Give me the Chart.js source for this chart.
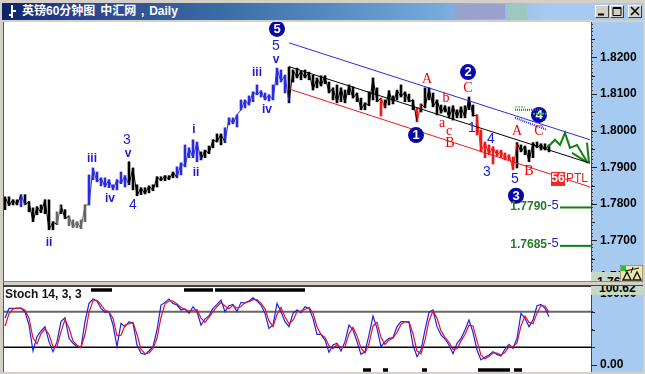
<!DOCTYPE html>
<html>
<head>
<meta charset="utf-8">
<title>英镑60分钟图</title>
<script src="https://cdn.jsdelivr.net/npm/chart.js@4/dist/chart.umd.min.js"></script>
<style>
html, body { margin: 0; padding: 0; background: #d4d0c8; overflow: hidden; }
body { position: relative; width: 645px; height: 374px; font-family: "Liberation Sans", "Noto Sans CJK SC", sans-serif; }
div, canvas, svg { position: absolute; }
#titlebar { left: 2px; top: 3px; width: 641px; height: 17px; background: linear-gradient(to right, #0a246a 0%, #2a3f8c 10%, #3a6ea5 35%, #6ea4d8 65%, #a6caf0 85%, #a6caf0 100%); }
#titletext { left: 20px; top: 0; color: #fff; font-weight: bold; font-size: 12px; line-height: 17px; white-space: nowrap; word-spacing: 1.5px; }
.patch { top: 1px; height: 15px; }
.btn { top: 5px; width: 14px; height: 13px; background: #d4d0c8; border: 1px solid; border-color: #fff #404040 #404040 #fff; box-sizing: border-box; }
#plot1 { left: 4px; top: 22px; width: 587px; height: 259px; background: #fff; }
#plot2 { left: 4px; top: 287px; width: 587px; height: 85px; background: #fff; }
#axis1 { left: 591px; top: 22px; width: 52px; height: 259px; background: #a6caf0; }
#axis2 { left: 591px; top: 287px; width: 52px; height: 85px; background: #a6caf0; }
#edge { left: 3px; top: 22px; width: 1px; height: 350px; background: #555; }
#split { left: 3px; top: 285px; width: 640px; height: 2px; background: #444; }
#split0 { left: 3px; top: 281px; width: 640px; height: 1px; background: #888; }
#chart1 { left: 4px; top: 22px; }
#chart2 { left: 4px; top: 287px; }
.valuebox { left: 591px; background: #c6d8c4; overflow: hidden; font-weight: bold; font-size: 12px; color: #000; white-space: nowrap; }
#box1 { top: 272px; width: 30px; height: 9px; line-height: 20px; padding-left: 6px; box-sizing: border-box; }
#box2 { top: 286px; width: 52px; height: 9px; line-height: 4px; padding-left: 8px; box-sizing: border-box; }
</style>
</head>
<body>
<div id="titlebar">
  <svg style="left:6px;top:2px" width="10" height="14"><path d="M4 0V13M4 6H8M1 10H4" stroke="#fff" stroke-width="2" fill="none"/></svg>
  <div class="patch" style="left:453px;width:50px;background:#98a2cc"></div>
  <div class="patch" style="left:505px;width:20px;background:#9cc8c0"></div>
  <div id="titletext">英镑60分钟图 中汇网 , Daily</div>
</div>
<div class="btn" style="left:595px"><svg width="12" height="11"><path d="M2 8.5H8" stroke="#000" stroke-width="2"/></svg></div>
<div class="btn" style="left:610px"><svg width="12" height="11"><path d="M2 1.5H10V9.5H2Z M2 2.5H10" stroke="#000" fill="none"/></svg></div>
<div class="btn" style="left:628px"><svg width="12" height="11"><path d="M2 1L10 9M10 1L2 9" stroke="#000" stroke-width="1.6"/></svg></div>
<div id="edge"></div>
<div id="plot1"></div>
<div id="axis1"></div>
<div id="split0"></div>
<div id="plot2"></div>
<div id="axis2"></div>
<div id="split"></div>
<canvas id="chart1" width="639" height="259"></canvas>
<canvas id="chart2" width="639" height="85"></canvas>
<div id="box1" class="valuebox">1.7600</div>
<div id="box2" class="valuebox">100.62</div>
<svg style="left:620px;top:265px" width="23" height="17">
  <rect width="23" height="17" fill="#ece6a8" stroke="#555"/>
  <rect x="1" y="1" width="5" height="5" fill="#22c040"/>
  <path d="M3 15L7 7L11 15ZM13 15L17 7L21 15Z" fill="none" stroke="#111" stroke-width="1.4"/>
  <path d="M5 6L19 3M11 8L13 2" stroke="#111" fill="none"/>
</svg>
<script>
const highs = [
  1.7819, 1.7819, 1.7811, 1.7811, 1.7825, 1.7825, 1.7806, 1.7789, 1.7792, 1.7797,
  1.7811, 1.7811, 1.7751, 1.7778, 1.7797, 1.7784, 1.7767, 1.7756, 1.7751, 1.7756,
  1.7797, 1.7879, 1.7898, 1.7887, 1.7871, 1.7871, 1.7866, 1.7852, 1.7866, 1.7887,
  1.7877, 1.7915, 1.7898, 1.7852, 1.7844, 1.7844, 1.7849, 1.7852, 1.7874, 1.7874,
  1.7877, 1.7877, 1.7887, 1.7901, 1.7912, 1.7961, 1.7953, 1.7975, 1.7969, 1.7942,
  1.7947, 1.7958, 1.7975, 1.7991, 1.7991, 1.8008, 1.8035, 1.8035, 1.8043, 1.8084,
  1.8084, 1.8095, 1.8106, 1.8125, 1.8109, 1.8103, 1.8098, 1.8125, 1.8171, 1.8166,
  1.8152, 1.8174, 1.8166, 1.8171, 1.8163, 1.8166, 1.8160, 1.8152, 1.8144, 1.8150,
  1.8150, 1.8133, 1.8117, 1.8125, 1.8117, 1.8111, 1.8125, 1.8120, 1.8103, 1.8089,
  1.8076, 1.8106, 1.8144, 1.8117, 1.8089, 1.8084, 1.8109, 1.8095, 1.8111, 1.8125,
  1.8106, 1.8100, 1.8084, 1.8062, 1.8073, 1.8117, 1.8117, 1.8103, 1.8084, 1.8070,
  1.8068, 1.8065, 1.8068, 1.8057, 1.8065, 1.8068, 1.8092, 1.8070, 1.8043, 1.8002,
  1.7969, 1.7961, 1.7956, 1.7947, 1.7947, 1.7939, 1.7934, 1.7928, 1.7967, 1.7961,
  1.7958, 1.7947, 1.7967, 1.7969, 1.7964, 1.7964, 1.7961
];
const lows = [
  1.7784, 1.7795, 1.7797, 1.7797, 1.7792, 1.7797, 1.7778, 1.7751, 1.7770, 1.7776,
  1.7773, 1.7729, 1.7729, 1.7743, 1.7773, 1.7759, 1.7740, 1.7735, 1.7735, 1.7732,
  1.7751, 1.7797, 1.7866, 1.7860, 1.7849, 1.7846, 1.7844, 1.7838, 1.7838, 1.7855,
  1.7846, 1.7852, 1.7838, 1.7822, 1.7825, 1.7827, 1.7830, 1.7836, 1.7846, 1.7863,
  1.7863, 1.7866, 1.7871, 1.7871, 1.7879, 1.7901, 1.7926, 1.7926, 1.7915, 1.7920,
  1.7926, 1.7937, 1.7953, 1.7969, 1.7961, 1.7967, 1.8016, 1.8019, 1.8010, 1.8057,
  1.8062, 1.8070, 1.8079, 1.8098, 1.8092, 1.8084, 1.8081, 1.8084, 1.8125, 1.8133,
  1.8103, 1.8076, 1.8133, 1.8144, 1.8139, 1.8144, 1.8139, 1.8111, 1.8117, 1.8122,
  1.8128, 1.8103, 1.8084, 1.8076, 1.8079, 1.8076, 1.8098, 1.8089, 1.8079, 1.8057,
  1.8057, 1.8068, 1.8084, 1.8079, 1.8040, 1.8062, 1.8070, 1.8073, 1.8084, 1.8092,
  1.8079, 1.8079, 1.8057, 1.8024, 1.8051, 1.8062, 1.8084, 1.8065, 1.8043, 1.8048,
  1.8051, 1.8035, 1.8029, 1.8035, 1.8035, 1.8035, 1.8057, 1.8040, 1.7988, 1.7942,
  1.7926, 1.7934, 1.7909, 1.7931, 1.7926, 1.7920, 1.7920, 1.7893, 1.7898, 1.7942,
  1.7934, 1.7915, 1.7926, 1.7953, 1.7947, 1.7947, 1.7942
];
const stochK = [
  65.7, 79.7, 79.7, 79.7, 79.7, 75, 56.3, 19.8, 39.9, 47.9,
  54, 32.9, 18.9, 32.9, 61, 66.6, 37.6, 30.6, 25.9, 24.5,
  61, 86.7, 92.8, 90, 79.7, 74.1, 75, 56.3, 25.9, 58.6,
  54, 61, 58.6, 28.2, 16.5, 15.1, 19.8, 25.9, 49.3, 84.4,
  88.1, 92.8, 86.7, 84.4, 77.4, 78.8, 72.7, 82, 75, 56.3,
  64.7, 69.4, 79.7, 85.3, 91.4, 75, 83.4, 85.3, 75, 88.1,
  87.2, 90, 94.7, 90, 84.4, 72.7, 51.6, 56.3, 86.7, 75,
  61, 54, 72.7, 77.4, 73.6, 82, 79.7, 65.7, 43.2, 43.2,
  35.2, 17.9, 28.2, 30.6, 19.8, 32.9, 56.3, 49.3, 32.9, 15.1,
  18.9, 42.3, 68.9, 51.6, 25.9, 32.9, 37.6, 38.5, 54, 61,
  61, 60, 28.2, 11.8, 21.2, 49.3, 74.1, 77.4, 54, 42.3,
  36.6, 28.2, 16, 30.6, 37.6, 49.3, 63.3, 46, 21.2, 7.2,
  10.9, 14.2, 18.9, 15.1, 12.8, 22.6, 29.2, 23.5, 37.6, 72.7,
  65.7, 54, 63.3, 83.4, 85.3, 79.7, 68
];
const stochD = [
  55, 72, 79, 80, 80, 77, 66, 38, 30, 44,
  51, 43, 26, 26, 47, 64, 52, 34, 28, 25,
  43, 74, 90, 91, 85, 77, 75, 66, 41, 42,
  56, 58, 60, 43, 22, 16, 17, 23, 38, 67,
  86, 90, 90, 86, 81, 78, 76, 77, 78, 66,
  60, 67, 75, 82, 88, 83, 79, 84, 80, 82,
  88, 89, 92, 92, 87, 79, 62, 54, 71, 81,
  68, 58, 63, 75, 76, 78, 81, 73, 54, 43,
  39, 27, 23, 29, 25, 26, 44, 53, 41, 24,
  17, 30, 55, 60, 39, 29, 35, 38, 46, 57,
  61, 61, 44, 20, 16, 35, 62, 76, 66, 48,
  39, 32, 22, 23, 34, 43, 56, 55, 34, 14,
  9, 12, 17, 17, 14, 18, 26, 26, 31, 55,
  69, 60, 58, 73, 84, 83, 74
];
const stochLevels = [75, 25];
const stochTopSpans = [[21.5, 26.75], [44.75, 52], [52.5, 75]];
const stochBottomSpans = [[89.5, 91.5], [94.5, 95.75], [104.25, 105.5], [118.25, 126.25], [127.25, 129.25]];

// bar runs that are not black, by bar number
const blueRuns = [[4, 4], [21, 30], [43, 48], [55, 70]];
const grayRuns = [[13, 13], [16, 20]];
const redRuns = [[94, 94], [103, 103], [118, 127]];

const upperChannel = [[71, 1.8240], [146.25, 1.7975]];
const middleChannel = [[71, 1.8175], [146.25, 1.7911]];
const lowerChannel = [[71, 1.8114], [146.25, 1.7846]];
const forecast = [[135.75, 1.7956], [137.5, 1.7975], [138.75, 1.7961], [140, 1.7994], [141.25, 1.7953], [143, 1.7961], [145.5, 1.7915]];
const forecastArrowA = [[145.5, 1.7967], [146, 1.7912]];
const forecastArrowB = [[141.75, 1.7939], [145.75, 1.7912]];
const targetValues = [1.7790, 1.7685];
const targetTexts = ['1.7790', '1.7685'];

const circledBehind = [['4', 133.5, 1.8043]];
const circledLabels = [['5', 68, 1.8278], ['1', 102.75, 1.7988], ['2', 115.75, 1.8160], ['3', 127.75, 1.7822]];
const blueLabels = [
  ['5', 67.75, 1.8231], ['v', 67.75, 1.8193], ['iii', 63, 1.8158], ['iv', 65.5, 1.8057],
  ['i', 47.25, 1.8002], ['ii', 47.75, 1.7885], ['3', 30.5, 1.7975], ['v', 30.75, 1.7937],
  ['iii', 21.75, 1.7923], ['iv', 26.25, 1.7814], ['4', 32, 1.7797], ['ii', 11, 1.7694],
  ['1', 116.75, 1.8008], ['4', 121.5, 1.7978], ['3', 120.5, 1.7887], ['5', 127.5, 1.7868]
];
const redLabels = [
  ['A', 105.5, 1.8139], ['b', 110.25, 1.8089], ['a', 109.25, 1.8021], ['c', 111, 1.7997],
  ['B', 111.25, 1.7964], ['C', 115.75, 1.8117], ['A', 128, 1.7999], ['C', 133.5, 1.7999], ['B', 131, 1.7890]
];

const XMIN = -0.25, XMAX = 146.5;
const AXIS_FONT = { family: '"Liberation Sans"', size: 12, weight: 'bold' };

function inRuns(runs, i) {
  return runs.some(r => i >= r[0] && i <= r[1]);
}

function colorAt(i) {
  if (inRuns(blueRuns, i)) return '#2a2ae0';
  if (inRuns(redRuns, i)) return '#f01818';
  if (inRuns(grayRuns, i)) return '#666666';
  return '#000000';
}

function segment(points, color, width, dash) {
  return {
    type: 'line',
    data: points.map(p => ({ x: p[0], y: p[1] })),
    borderColor: color,
    borderWidth: width,
    borderDash: dash || [],
    pointRadius: 0,
    tension: 0
  };
}

function fixAxis(scale) {
  scale.width = 52;
  scale.paddingTop = 0;
  scale.paddingBottom = 0;
}

// longer tick marks on the value axis, the library only gives one length
function longTicks(majorTest, midTest) {
  return {
    id: 'longTicks',
    afterDraw(chart) {
      const s = chart.scales.y;
      const c = chart.ctx;
      c.save();
      c.strokeStyle = '#222';
      c.lineWidth = 1;
      s.ticks.forEach(t => {
        let len = 0;
        if (majorTest(t.value)) len = 6;
        else if (midTest(t.value)) len = 4;
        if (!len) return;
        const y = Math.round(s.getPixelForValue(t.value)) + 0.5;
        c.beginPath();
        c.moveTo(s.left, y);
        c.lineTo(s.left + len, y);
        c.stroke();
      });
      c.restore();
    }
  };
}

function isMultiple(v, step) {
  const q = v / step;
  return Math.abs(q - Math.round(q)) < 1e-6;
}

function drawCircled(chart, list) {
  const c = chart.ctx;
  const sx = chart.scales.x, sy = chart.scales.y;
  c.save();
  c.textAlign = 'center';
  c.textBaseline = 'middle';
  list.forEach(l => {
    const x = sx.getPixelForValue(l[1]), y = sy.getPixelForValue(l[2]);
    c.beginPath();
    c.arc(x, y, 8, 0, Math.PI * 2);
    c.fillStyle = '#0808a8';
    c.fill();
    c.font = 'bold 13px "Liberation Sans"';
    c.fillStyle = '#fff';
    c.fillText(l[0], x, y + 0.5);
  });
  c.restore();
}

const labelPlugin = {
  id: 'waveLabels',
  beforeDatasetsDraw(chart) {
    drawCircled(chart, circledBehind);
  },
  afterDatasetsDraw(chart) {
    const c = chart.ctx;
    const sx = chart.scales.x, sy = chart.scales.y;
    c.save();
    c.textAlign = 'center';
    c.textBaseline = 'middle';

    blueLabels.forEach(l => {
      const digit = /\d/.test(l[0]);
      c.font = digit ? '14px "Liberation Sans"' : 'bold 12px "Liberation Sans"';
      c.fillStyle = '#1a1ad8';
      c.fillText(l[0], sx.getPixelForValue(l[1]), sy.getPixelForValue(l[2]));
    });

    c.font = '14px "Liberation Serif"';
    c.fillStyle = '#f00000';
    redLabels.forEach(l => {
      c.fillText(l[0], sx.getPixelForValue(l[1]), sy.getPixelForValue(l[2]));
    });

    drawCircled(chart, circledLabels);

    // targets under the last wave
    targetValues.forEach((v, i) => {
      const y = sy.getPixelForValue(v) - 1;
      c.textAlign = 'right';
      c.font = 'bold 12px "Liberation Sans"';
      c.fillStyle = '#2a7a2a';
      c.fillText(targetTexts[i], sx.getPixelForValue(135.5), y);
      c.textAlign = 'center';
      c.font = '13px "Liberation Sans"';
      c.fillStyle = '#1a1ad8';
      c.fillText('-5', sx.getPixelForValue(137), y - 1);
    });

    const tx = sx.getPixelForValue(138.25), ty = sy.getPixelForValue(1.7868);
    c.fillStyle = '#f02828';
    c.fillRect(tx - 7, ty - 7, 14, 14);
    c.fillStyle = '#fff';
    c.font = 'bold 12px "Liberation Sans"';
    c.fillText('56', tx, ty);
    c.textAlign = 'left';
    c.fillStyle = '#e81c1c';
    c.font = '12px "Liberation Sans"';
    c.fillText('PTL', tx + 8, ty);
    c.restore();
  }
};

// thin zigzag between bars so the price reads as one wiry trace
const priceTrace = segment(highs.map((h, i) => [i, i % 2 ? lows[i] : h]), '#000', 1);
priceTrace.segment = { borderColor: ctx => colorAt(ctx.p0DataIndex) };

new Chart(document.getElementById('chart1'), {
  type: 'bar',
  data: {
    datasets: [
      segment(upperChannel, '#2a2ae0', 1),
      segment(middleChannel, '#000', 1),
      segment(lowerChannel, '#f01818', 1),
      segment(forecast, '#108010', 2),
      segment(forecastArrowA, '#108010', 2),
      segment(forecastArrowB, '#108010', 2),
      segment([[127.5, 1.8035], [135.5, 1.8002]], '#2a2ae0', 2, [1, 1]),
      segment([[127.5, 1.8057], [133.75, 1.8057]], '#f01818', 2, [1, 1]),
      segment([[127.5, 1.8065], [130, 1.8065]], '#20c020', 1, [2, 1]),
      segment([[132, 1.8046], [135.5, 1.8046]], '#20c020', 2, [2, 1]),
      segment([[138.75, targetValues[0]], [XMAX, targetValues[0]]], '#108010', 2),
      segment([[138.75, targetValues[1]], [XMAX, targetValues[1]]], '#108010', 2),
      priceTrace,
      {
        type: 'bar',
        data: highs.map((h, i) => ({ x: i, y: [lows[i], h] })),
        backgroundColor: ctx => colorAt(ctx.dataIndex),
        barThickness: 2
      }
    ]
  },
  options: {
    responsive: false,
    animation: false,
    layout: { padding: 0 },
    plugins: { legend: { display: false }, tooltip: { enabled: false } },
    scales: {
      x: { type: 'linear', display: false, offset: false, min: XMIN, max: XMAX },
      y: {
        position: 'right',
        min: 1.7589,
        max: 1.8297,
        afterFit: fixAxis,
        border: { color: '#444', width: 1 },
        grid: { drawOnChartArea: false, tickLength: 2, tickColor: '#333' },
        ticks: {
          stepSize: 0.001,
          includeBounds: false,
          autoSkip: false,
          padding: 7,
          color: '#000',
          font: AXIS_FONT,
          callback: v => isMultiple(v, 0.01) ? v.toFixed(4) : ''
        }
      }
    }
  },
  plugins: [labelPlugin, longTicks(v => isMultiple(v, 0.01), v => isMultiple(v, 0.005))]
});

const stochSets = [];
stochSets.push(segment(stochD.map((v, i) => [i, v]), '#e01030', 1.2));
stochSets.push(segment(stochK.map((v, i) => [i, v]), '#2020e0', 1.2));
stochSets.push(segment([[XMIN, stochLevels[0]], [XMAX, stochLevels[0]]], '#666', 2));
stochSets.push(segment([[XMIN, stochLevels[1]], [XMAX, stochLevels[1]]], '#000', 1.4));
stochTopSpans.forEach(s => stochSets.push(segment([[s[0], 105.5], [s[1], 105.5]], '#000', 3.5)));
stochBottomSpans.forEach(s => stochSets.push(segment([[s[0], -6.9], [s[1], -6.9]], '#000', 3.5)));

const stochTitle = {
  id: 'stochTitle',
  afterDatasetsDraw(chart) {
    const c = chart.ctx;
    c.save();
    c.font = 'bold 12px "Liberation Sans"';
    c.fillStyle = '#111';
    c.textBaseline = 'middle';
    c.fillText('Stoch 14, 3, 3', chart.chartArea.left + 1, 8);
    c.restore();
  }
};

new Chart(document.getElementById('chart2'), {
  type: 'line',
  data: { datasets: stochSets },
  options: {
    responsive: false,
    animation: false,
    layout: { padding: 0 },
    plugins: { legend: { display: false }, tooltip: { enabled: false } },
    scales: {
      x: { type: 'linear', display: false, min: XMIN, max: XMAX },
      y: {
        position: 'right',
        min: -9.7,
        max: 109.7,
        afterFit: fixAxis,
        border: { color: '#444', width: 1 },
        grid: { drawOnChartArea: false, tickLength: 2, tickColor: '#333' },
        ticks: {
          stepSize: 25,
          includeBounds: false,
          autoSkip: false,
          padding: 7,
          color: '#000',
          font: AXIS_FONT,
          callback: v => (v === 0 || v === 100) ? v.toFixed(2) : ''
        }
      }
    }
  },
  plugins: [stochTitle, longTicks(v => v === 0 || v === 100, () => true)]
});
</script>
</body>
</html>
